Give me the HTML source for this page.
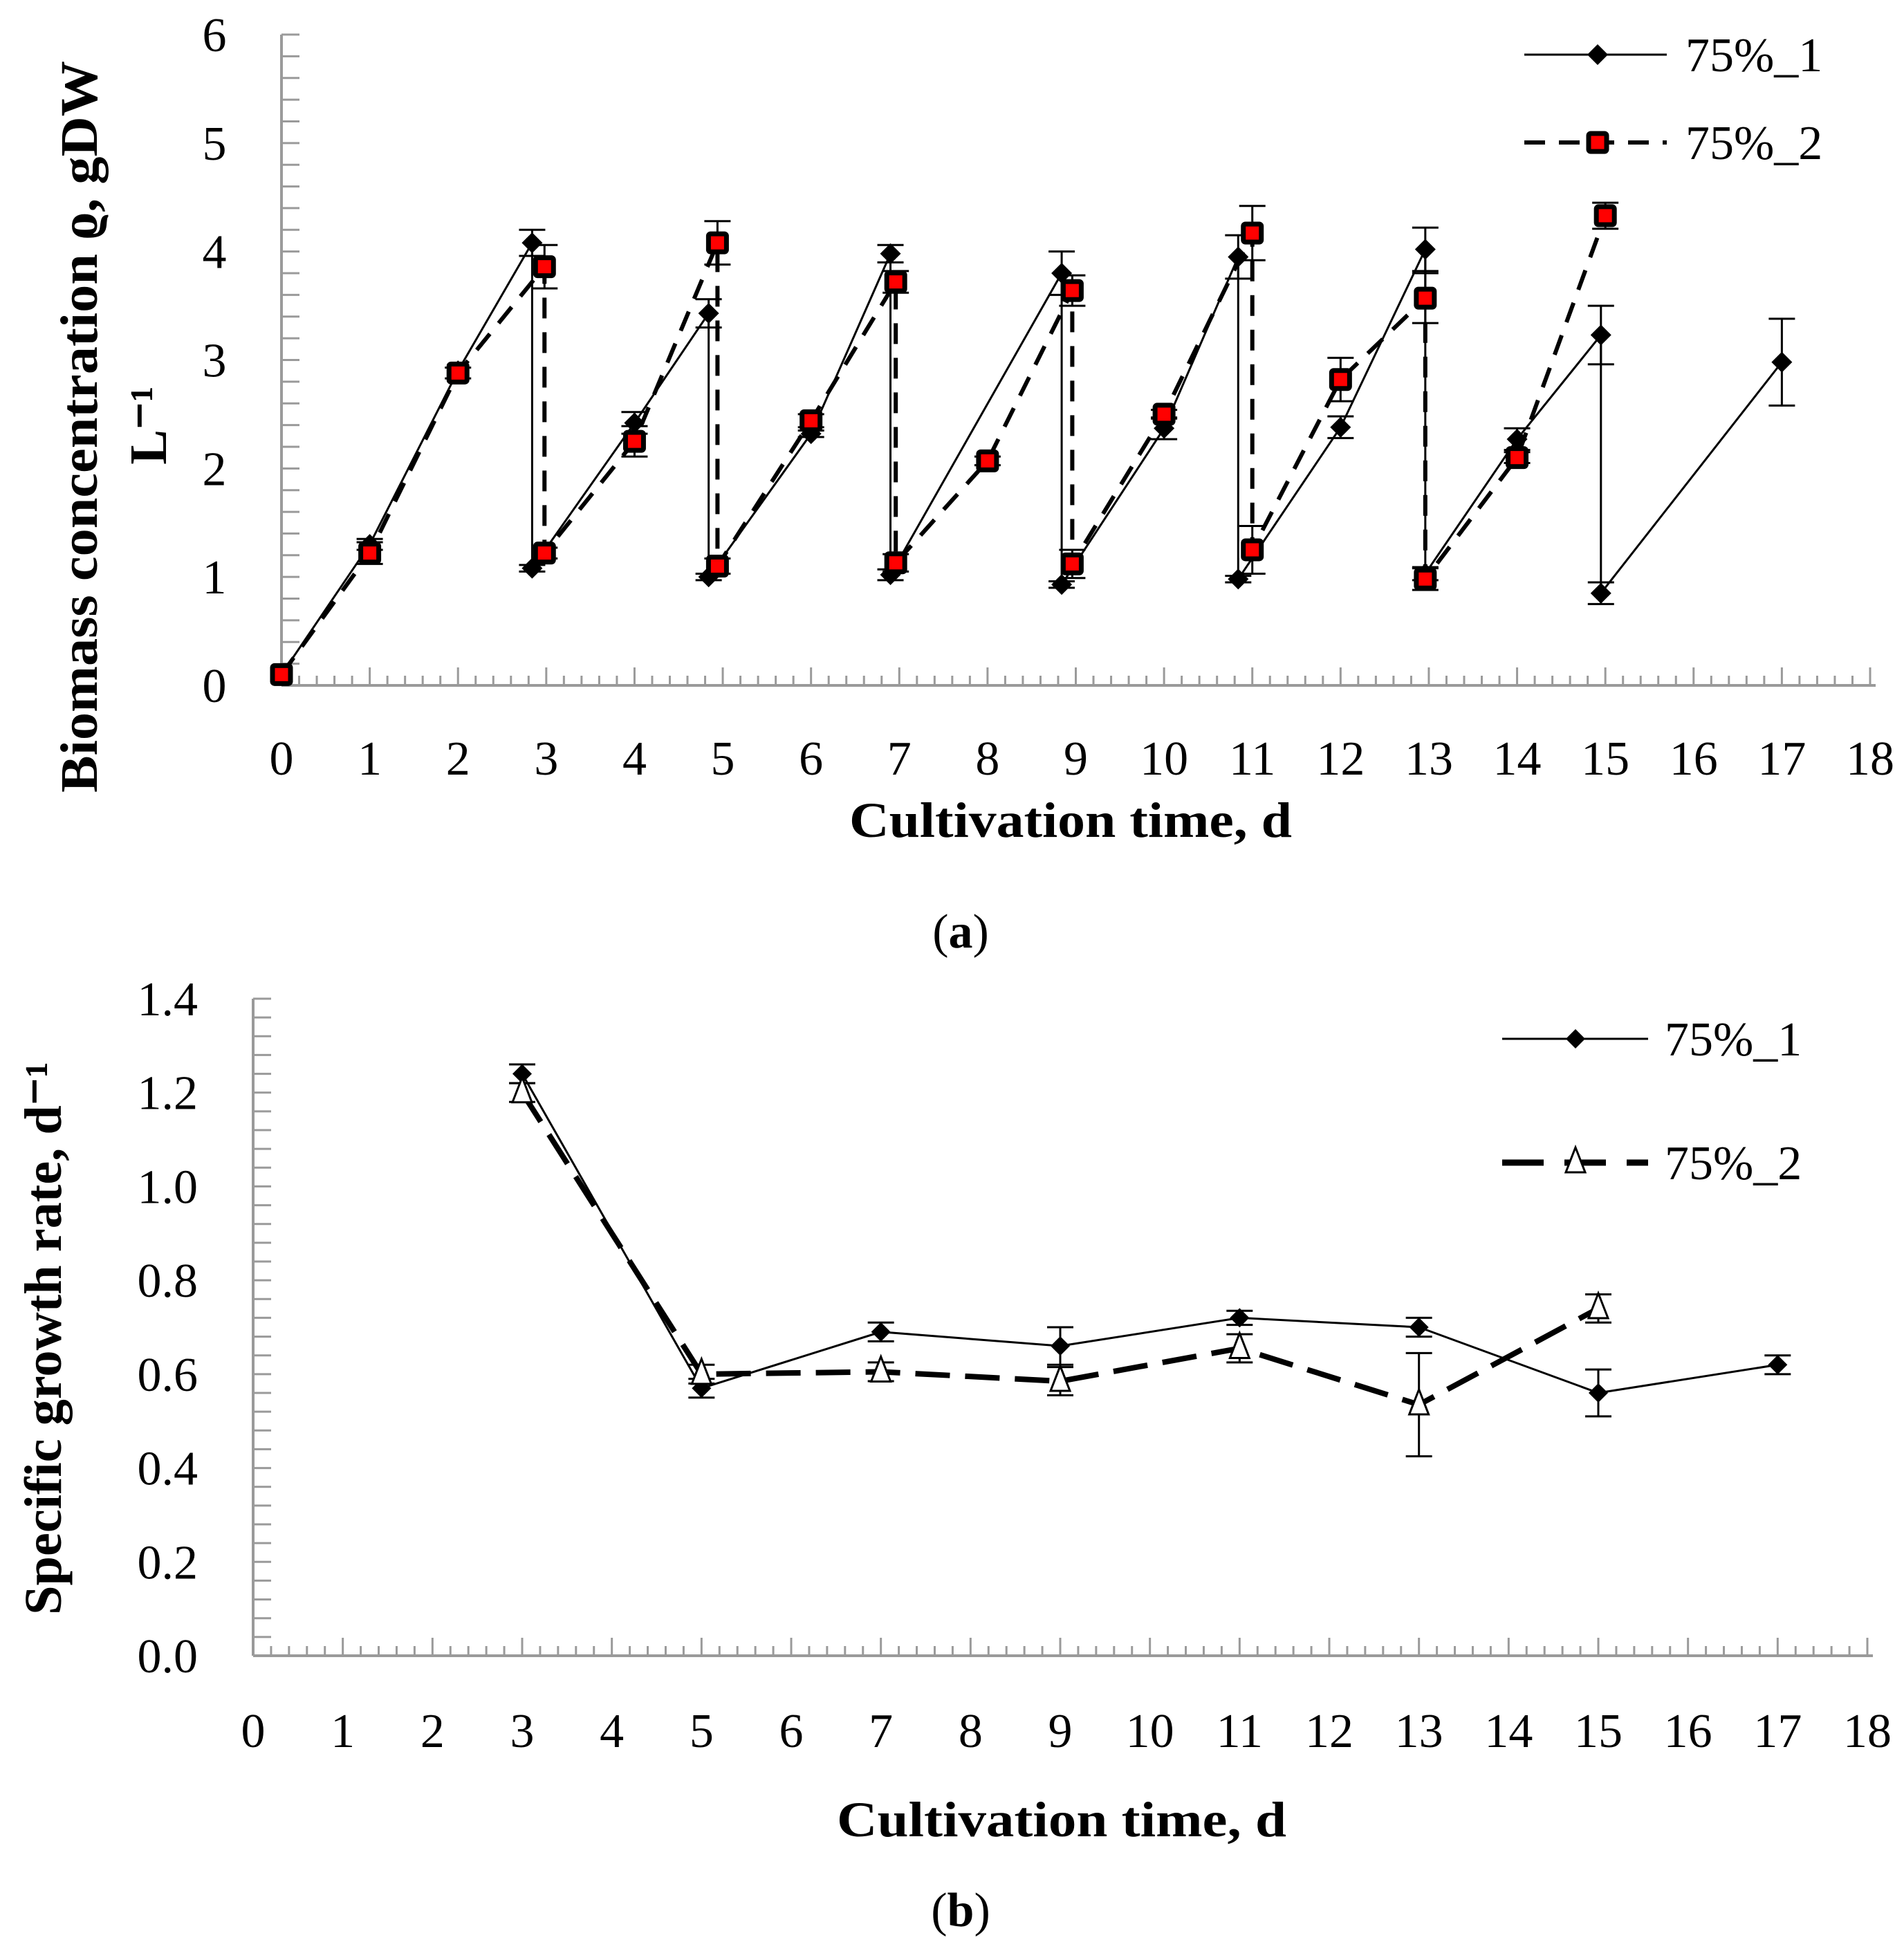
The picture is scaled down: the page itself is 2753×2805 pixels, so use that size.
<!DOCTYPE html>
<html><head><meta charset="utf-8"><style>
html,body{margin:0;padding:0;background:#fff;}
svg{display:block;font-family:"Liberation Serif",serif;}
</style></head><body>
<svg id="c" width="2753" height="2805" viewBox="0 0 2753 2805" xmlns="http://www.w3.org/2000/svg"></svg>
<script>
// ---- Chart (a) data ----
const aS1X = [0,1,2,2.84,2.84,4,4.84,4.84,6,6.9,6.9,8.84,8.84,10,10.84,10.84,12,12.96,12.96,14,14.95,14.95,17];
const aS1Y = [0.1,1.3,2.9,4.08,1.08,2.42,3.43,1.0,2.32,3.98,1.02,3.8,0.93,2.37,3.95,0.98,2.38,4.02,1.03,2.27,3.23,0.85,2.98];
const aS1E = [0,0.05,0,0.12,0.03,0.1,0.13,0.03,0.03,0.08,0.05,0.2,0.03,0.1,0.2,0.03,0.1,0.2,0.06,0.1,0.27,0.1,0.4];
const aS2X = [0,1,2,2.98,2.98,4,4.94,4.94,6,6.96,6.96,8,8.96,8.96,10,11,11,12,12.96,12.96,14,15];
const aS2Y = [0.1,1.22,2.88,3.86,1.22,2.25,4.08,1.1,2.44,3.72,1.13,2.07,3.64,1.12,2.5,4.17,1.25,2.82,3.57,0.98,2.1,4.33];
const aS2E = [0,0.1,0.05,0.2,0.05,0.14,0.2,0.07,0.06,0.1,0.08,0.04,0.14,0.13,0.04,0.25,0.22,0.2,0.23,0.1,0.05,0.12];
const aXTicks = [0,1,2,3,4,5,6,7,8,9,10,11,12,13,14,15,16,17,18];
const aYTicks = [0,1,2,3,4,5,6];
// ---- Chart (b) data ----
const bS1X = [3,5,7,9,11,13,15,17];
const bS1Y = [1.24,0.57,0.69,0.66,0.72,0.70,0.56,0.62];
const bS1E = [0.02,0.02,0.02,0.04,0.015,0.02,0.05,0.02];
const bS2X = [3,5,7,9,11,13,15];
const bS2Y = [1.2,0.60,0.605,0.585,0.655,0.535,0.74];
const bS2E = [0.02,0.02,0.02,0.03,0.03,0.11,0.03];
const bXTicks = [0,1,2,3,4,5,6,7,8,9,10,11,12,13,14,15,16,17,18];
const bYTicks = ["0.0","0.2","0.4","0.6","0.8","1.0","1.2","1.4"];

const svg = document.getElementById('c');
const NS = 'http://www.w3.org/2000/svg';
function mk(tag, attrs, parent){const e=document.createElementNS(NS,tag);for(const k in attrs)e.setAttribute(k,attrs[k]);(parent||svg).appendChild(e);return e;}

const ax = v => 407 + v*(2704-407)/18;
const ay = v => 991 - v*(991-50)/6;
const bx = v => 366 + v*(2700-366)/18;
const by = v => 2394 - v*(2394-1444)/1.4;

function axes(g, xs, ys, nxMinor, nyMinor, xmax, ymax){
  const grey='#9a9a9a';
  let l=mk('line',{x1:xs(0),y1:ys(0),x2:xs(xmax)+8,y2:ys(0),stroke:grey,'stroke-width':4},g);
  
  l=mk('line',{x1:xs(0),y1:ys(0),x2:xs(0),y2:ys(ymax),stroke:grey,'stroke-width':4},g);
  
  for(let i=0;i<=xmax*nxMinor;i++){const v=i/nxMinor;const major=i%nxMinor===0;
    mk('line',{x1:xs(v),y1:ys(0),x2:xs(v),y2:ys(0)-(major?26:14),stroke:grey,'stroke-width':3},g);}
  for(let i=0;i<=Math.round(ymax*nyMinor);i++){const v=i/nyMinor;
    mk('line',{x1:xs(0),y1:ys(v),x2:xs(0)+26,y2:ys(v),stroke:grey,'stroke-width':3},g);}
}
function errbars(g, xs, ys, X, Y, E){
  for(let i=0;i<X.length;i++){ if(!E[i]) continue;
    const x=xs(X[i]), t=ys(Y[i]+E[i]), b=ys(Y[i]-E[i]);
    const e=mk('path',{d:`M${x},${t}V${b}M${x-19},${t}h38M${x-19},${b}h38`,stroke:'#000','stroke-width':3,fill:'none'},g);
    }
}
function line(g, xs, ys, X, Y, w, dash, name){
  const p=mk('polyline',{points:X.map((v,i)=>xs(v)+','+ys(Y[i])).join(' '),fill:'none',stroke:'#000','stroke-width':w,'stroke-dasharray':dash||'none','stroke-linejoin':'round'},g);
  
}
function diamond(g,x,y,s){const d=mk('path',{d:`M${x},${y-s}L${x+s},${y}L${x},${y+s}L${x-s},${y}Z`,fill:'#000'},g);
  }
function square(g,x,y){const r=mk('rect',{x:x-13,y:y-13,width:26,height:26,fill:'#f00',stroke:'#000','stroke-width':7,rx:3},g);
  }
function tri(g,x,y){const t=mk('path',{d:`M${x},${y-22}L${x+14},${y+14}L${x-14},${y+14}Z`,fill:'#fff',stroke:'#000','stroke-width':3},g);
  }
function text(g,x,y,s,attrs,name){const t=mk('text',Object.assign({x:x,y:y},attrs),g);t.textContent=s;
  return t;}

// ===== Chart (a) =====
const ga=mk('g',{});
axes(ga,ax,ay,5,5,18,6);
aXTicks.forEach(v=>text(ga,ax(v),1120,String(v),{'font-size':70,'text-anchor':'middle'},'x-tick-label'));
aYTicks.forEach(v=>text(ga,310,ay(v)+24,String(v),{'font-size':70,'text-anchor':'middle'},'y-tick-label'));
errbars(ga,ax,ay,aS1X,aS1Y,aS1E);
errbars(ga,ax,ay,aS2X,aS2Y,aS2E);
line(ga,ax,ay,aS1X,aS1Y,3,null,'series-75-1-line');
line(ga,ax,ay,aS2X,aS2Y,6,'30,20','series-75-2-line');
aS1X.forEach((v,i)=>diamond(ga,ax(v),ay(aS1Y[i]),15));
aS2X.forEach((v,i)=>square(ga,ax(v),ay(aS2Y[i])));
text(ga,1548,1210,'Cultivation time, d',{'font-size':72,'font-weight':'bold','text-anchor':'middle',textLength:640,lengthAdjust:'spacingAndGlyphs'},'x-axis-title');
text(ga,0,0,'Biomass concentration ϱ, gDW',{'font-size':76,'font-weight':'bold','text-anchor':'middle',textLength:1058,lengthAdjust:'spacingAndGlyphs',transform:'translate(140,617) rotate(-90)'},'y-axis-title');
text(ga,0,0,'L⁻¹',{'font-size':76,'font-weight':'bold','text-anchor':'middle',transform:'translate(240,615) rotate(-90)'},'y-axis-title-unit');
let pa=text(ga,1389,1370,'',{'font-size':70,'text-anchor':'middle'},'panel-label-a');
pa.innerHTML='(<tspan font-weight="bold">a</tspan>)';
let lg=mk('g',{},ga);
mk('line',{x1:2204,y1:79,x2:2410,y2:79,stroke:'#000','stroke-width':3},lg);diamond(lg,2310,79,15);
text(lg,2437,103,'75%_1',{'font-size':70},'legend-entry-75-1');
mk('line',{x1:2204,y1:206,x2:2410,y2:206,stroke:'#000','stroke-width':6,'stroke-dasharray':'30,20'},lg);square(lg,2310,206);
text(lg,2437,230,'75%_2',{'font-size':70},'legend-entry-75-2');

// ===== Chart (b) =====
const gb=mk('g',{});
axes(gb,bx,by,5,25,18,1.4);
bXTicks.forEach(v=>text(gb,bx(v),2526,String(v),{'font-size':70,'text-anchor':'middle'},'x-tick-label'));
bYTicks.forEach(v=>text(gb,286,by(parseFloat(v))+24,v,{'font-size':70,'text-anchor':'end'},'y-tick-label'));
errbars(gb,bx,by,bS1X,bS1Y,bS1E);
errbars(gb,bx,by,bS2X,bS2Y,bS2E);
line(gb,bx,by,bS2X,bS2Y,8,'50,22','series-75-2-line');
line(gb,bx,by,bS1X,bS1Y,3,null,'series-75-1-line');
bS1X.forEach((v,i)=>diamond(gb,bx(v),by(bS1Y[i]),14));
bS2X.forEach((v,i)=>tri(gb,bx(v),by(bS2Y[i])));
text(gb,1535,2655,'Cultivation time, d',{'font-size':72,'font-weight':'bold','text-anchor':'middle',textLength:650,lengthAdjust:'spacingAndGlyphs'},'x-axis-title');
text(gb,0,0,'Specific growth rate, d⁻¹',{'font-size':76,'font-weight':'bold','text-anchor':'middle',textLength:800,lengthAdjust:'spacingAndGlyphs',transform:'translate(88,1935) rotate(-90)'},'y-axis-title');
let pb=text(gb,1389,2785,'',{'font-size':70,'text-anchor':'middle'},'panel-label-b');
pb.innerHTML='(<tspan font-weight="bold">b</tspan>)';
let lb=mk('g',{},gb);
mk('line',{x1:2172,y1:1502,x2:2383,y2:1502,stroke:'#000','stroke-width':3},lb);diamond(lb,2278,1502,14);
text(lb,2407,1526,'75%_1',{'font-size':70},'legend-entry-75-1');
mk('line',{x1:2172,y1:1681,x2:2383,y2:1681,stroke:'#000','stroke-width':9,'stroke-dasharray':'60,30'},lb);tri(lb,2278,1681);
text(lb,2407,1705,'75%_2',{'font-size':70},'legend-entry-75-2');
</script>
</body></html>
